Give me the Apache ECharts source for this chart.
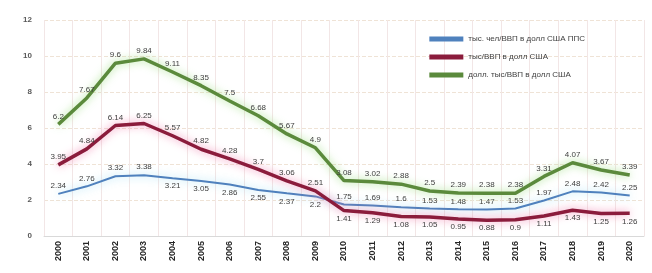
<!DOCTYPE html>
<html>
<head>
<meta charset="utf-8">
<script src="https://cdn.jsdelivr.net/npm/echarts@6/dist/echarts.min.js"></script>
<style>
  html, body { margin: 0; padding: 0; background: #fff; }
  #chart { width: 652px; height: 273px; }
</style>
</head>
<body>
<div id="chart"></div>
<script>
const years = ['2000', '2001', '2002', '2003', '2004', '2005', '2006', '2007', '2008', '2009', '2010',
  '2011', '2012', '2013', '2014', '2015', '2016', '2017', '2018', '2019', '2020'];

const seriesNames = [
  'тыс. чел/ВВП в долл США ППС',
  'тыс/ВВП в долл США',
  'долл. тыс/ВВП в долл США'
];

const blueValues = [2.34, 2.76, 3.32, 3.38, 3.21, 3.05, 2.86, 2.55, 2.37, 2.2, 1.75,
  1.69, 1.6, 1.53, 1.48, 1.47, 1.53, 1.97, 2.48, 2.42, 2.25];
const redValues = [3.95, 4.84, 6.14, 6.25, 5.57, 4.82, 4.28, 3.7, 3.06, 2.51, 1.41,
  1.29, 1.08, 1.05, 0.95, 0.88, 0.9, 1.11, 1.43, 1.25, 1.26];
const greenValues = [6.2, 7.67, 9.6, 9.84, 9.11, 8.35, 7.5, 6.68, 5.67, 4.9, 3.08,
  3.02, 2.88, 2.5, 2.39, 2.38, 2.38, 3.31, 4.07, 3.67, 3.39];

const yTicks = { min: 0, max: 12, interval: 2 };

// where each series puts its value label, by year index
function bluePos(i) { return (i >= 4 && i <= 9) ? 'bottom' : 'top'; }
function redPos(i) { return i >= 10 ? 'bottom' : 'top'; }
function greenPos() { return 'top'; }

function withLabels(values, posFn) {
  return values.map((v, i) => ({ value: v, label: { position: posFn(i) } }));
}

const labelStyle = { show: true, fontSize: 8, color: '#404040', fontFamily: 'Liberation Sans', distance: 4 };

function lineSeries(name, values, posFn, color, width, glow, z) {
  return {
    name,
    type: 'line',
    data: withLabels(values, posFn),
    symbol: 'circle',
    symbolSize: 0,
    showSymbol: true,
    color,
    itemStyle: { color },
    lineStyle: { color, width, shadowColor: glow, shadowBlur: 8 },
    label: labelStyle,
    z
  };
}

const chart = echarts.init(document.getElementById('chart'));
chart.setOption({
  animation: false,
  textStyle: { fontFamily: 'Liberation Sans' },
  grid: { left: 44, right: 8, top: 20, bottom: 37 },
  legend: {
    orient: 'vertical',
    right: 62,
    top: 30,
    itemWidth: 34,
    itemHeight: 5,
    itemGap: 10,
    icon: 'rect',
    textStyle: { fontSize: 8, color: '#404040' },
    data: seriesNames
  },
  xAxis: {
    type: 'category',
    data: years,
    boundaryGap: true,
    axisLine: { lineStyle: { color: '#d9d9d9' } },
    axisTick: { show: false },
    axisLabel: { rotate: 90, fontSize: 9, fontWeight: 'bold', color: '#262626', interval: 0, margin: 5 },
    splitLine: { show: true, lineStyle: { color: '#f2e6e6', width: 1 } }
  },
  yAxis: {
    type: 'value',
    min: yTicks.min,
    max: yTicks.max,
    interval: yTicks.interval,
    axisLine: { show: false },
    axisTick: { show: false },
    axisLabel: { fontSize: 8, color: '#595959', fontWeight: 'bold', margin: 12 },
    splitLine: { lineStyle: { color: '#efe3d6', type: 'dashed', width: 1 } }
  },
  series: [
    lineSeries(seriesNames[0], blueValues, bluePos, '#4f81bd', 2, 'rgba(120,210,240,0.7)', 3),
    lineSeries(seriesNames[1], redValues, redPos, '#8b1c3c', 3.5, 'rgba(240,120,170,0.8)', 4),
    lineSeries(seriesNames[2], greenValues, greenPos, '#5b8a3c', 3.5, 'rgba(150,220,120,0.8)', 5)
  ]
});
</script>
</body>
</html>
